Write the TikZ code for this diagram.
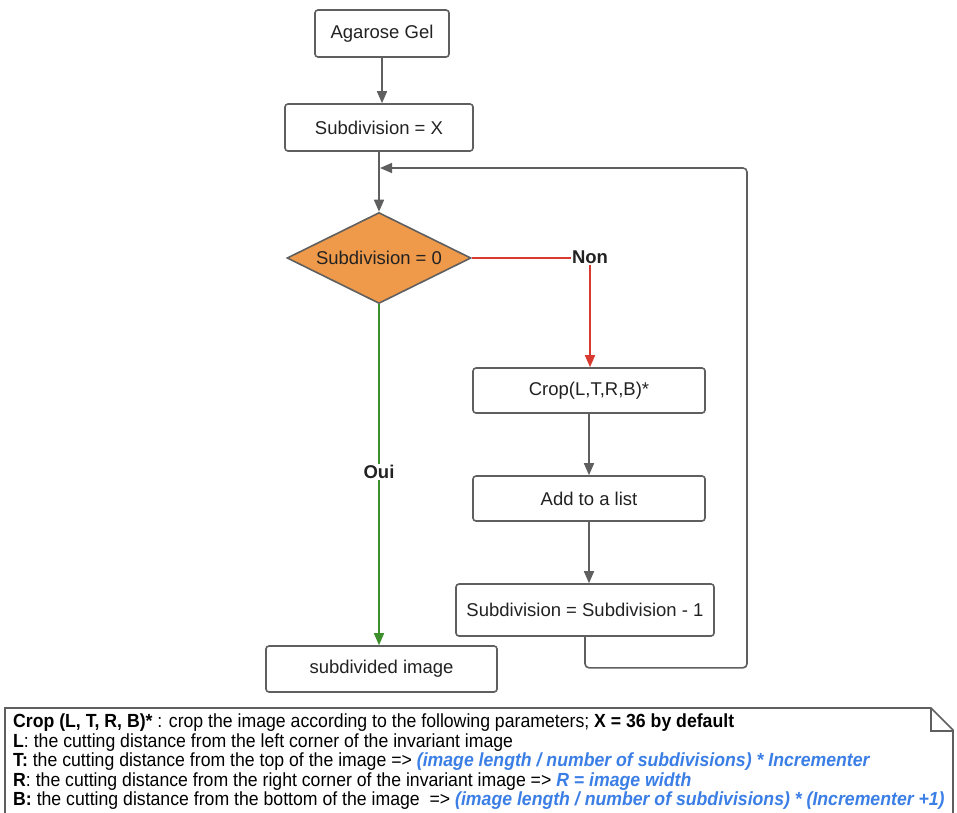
\documentclass[tikz,border=0pt]{standalone}
\usepackage{fontspec}
\setmainfont{Liberation Sans}
\newfontfamily\notefont[FakeStretch=0.93]{Liberation Sans}
\usetikzlibrary{arrows.meta,shapes.geometric}
\definecolor{edge}{HTML}{5F5F5F}
\definecolor{orangefill}{HTML}{EF9A4A}
\definecolor{nored}{HTML}{D93A30}
\definecolor{yesgreen}{HTML}{3C8F2B}
\definecolor{noteblue}{HTML}{3B7FE6}
\definecolor{textdark}{HTML}{222222}
\newcommand{\hlnote}[1]{\textcolor{noteblue}{\textbf{\textit{#1}}}}
\begin{document}
\begin{tikzpicture}[x=1pt,y=-1pt,
  box/.style={draw=edge,line width=1.6pt,rounded corners=3pt,fill=white,
    minimum height=47pt,inner sep=0pt,text=textdark,
    font=\fontsize{18.5}{22}\selectfont},
  decision/.style={diamond,aspect=2,draw=edge,fill=orangefill,line width=1.6pt,
    minimum width=184pt,minimum height=91pt,inner sep=0pt,text=textdark,
    font=\fontsize{18.5}{22}\selectfont},
  label/.style={text=textdark,inner sep=1pt,font=\fontsize{18.5}{22}\selectfont\bfseries},
  tip/.style={-{Triangle[length=12pt,width=10pt]}},
  flow/.style={draw=edge,line width=1.6pt,tip},
  noflow/.style={draw=nored,line width=1.6pt},
  yesflow/.style={draw=yesgreen,line width=1.6pt}]
\useasboundingbox (0,0) rectangle (957,812);

% flowchart nodes
\node[box,minimum width=134pt] (gel) at (382,33.5) {Agarose Gel};
\node[box,minimum width=188pt] (subx) at (379,127.5) {Subdivision = X};
\node[decision] (test) at (379,258) {Subdivision = 0};
\node[box,minimum width=232pt,minimum height=45pt] (crop) at (589,390.5) {Crop(L,T,R,B)*};
\node[box,minimum width=232pt,minimum height=45pt] (add) at (589,498.5) {Add to a list};
\node[box,minimum width=258pt,minimum height=52pt] (dec) at (585,610) {Subdivision = Subdivision - 1};
\node[box,minimum width=231pt,minimum height=46pt] (out) at (381.5,669) {subdivided image};

% branch labels
\node[label] (non) at (590,257) {Non};
\node[label] (oui) at (379,472) {Oui};

% connectors
\draw[flow] (gel.south) -- (gel.south |- subx.north);
\draw[flow] (subx) -- (test);
\draw[noflow] (test.east) -- (test.east -| non.west);
\draw[noflow,tip] (non.south) -- (non.south |- crop.north);
\draw[yesflow] (test.south) -- (oui.north);
\draw[yesflow,tip] (oui.south) -- (oui.south |- out.north);
\draw[flow] (crop) -- (add);
\draw[flow] (add.south) -- (add.south |- dec.north);
\coordinate (back) at (380,168);
\draw[flow,rounded corners=4pt] (dec.south) -- ++(0,31) -| (747,168) -- (back);

% note with folded corner
\draw[edge,line width=1.6pt,fill=white] (5,816) -- (5,708) -- (931,708) -- (953,730) -- (953,816);
\draw[edge,line width=1.6pt] (931,708) -- (931,731) -- (953,731);
\node[anchor=north west,align=left,inner sep=0pt,text=black,
  font=\notefont\fontsize{19}{19.6}\selectfont] (note) at (13,713.5) {%
\textbf{Crop (L, T, R, B)*} : crop the image according to the following parameters; \textbf{X = 36 by default}\\
\textbf{L}: the cutting distance from the left corner of the invariant image\\
\textbf{T:} the cutting distance from the top of the image => \hlnote{(image length / number of subdivisions) * Incrementer}\\
\textbf{R}: the cutting distance from the right corner of the invariant image => \hlnote{R = image width}\\
\textbf{B:} the cutting distance from the bottom of the image \ => \hlnote{(image length / number of subdivisions) * (Incrementer +1)}};
\end{tikzpicture}
\end{document}
